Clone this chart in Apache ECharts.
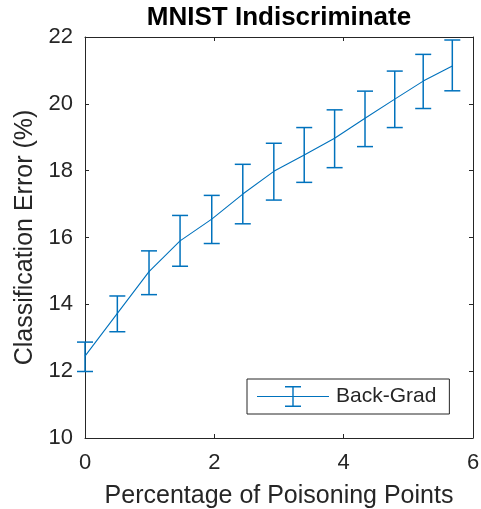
<!DOCTYPE html>
<html>
<head>
<meta charset="utf-8">
<script src="https://cdn.jsdelivr.net/npm/echarts@6/dist/echarts.min.js"></script>
<style>
html,body{margin:0;padding:0;background:#fff;}
#chart{width:481px;height:509px;}
</style>
</head>
<body>
<div id="chart"></div>
<script>
// Data
var xPct    = [0, 0.50, 0.99, 1.47, 1.96, 2.44, 2.92, 3.39, 3.86, 4.33, 4.79, 5.23, 5.68];
var meanErr = [12.45, 13.73, 14.98, 15.90, 16.55, 17.30, 17.98, 18.47, 18.97, 19.57, 20.14, 20.68, 21.13];
var lowErr  = [11.99, 13.18, 14.29, 15.14, 15.82, 16.41, 17.12, 17.65, 18.09, 18.72, 19.29, 19.86, 20.39];
var highErr = [12.87, 14.25, 15.60, 16.66, 17.26, 18.19, 18.82, 19.29, 19.82, 20.38, 20.98, 21.48, 21.91];
var xTicks = [0, 2, 4, 6];
var yTicks = [10, 12, 14, 16, 18, 20, 22];
var seriesName = 'Back-Grad';

var lineData = xPct.map(function (x, i) { return [x, meanErr[i]]; });
var barData = xPct.map(function (x, i) { return [x, lowErr[i], highErr[i]]; });

var BLUE = '#0072BD';
var AX = '#262626';
var FONT = '"Liberation Sans", Arial, Helvetica, sans-serif';

var chart = echarts.init(document.getElementById('chart'), null, {renderer: 'canvas'});

function xAxisCfg(pos, show) {
  return {
    type: 'value', position: pos, min: xTicks[0], max: xTicks[xTicks.length - 1], interval: 2,
    axisLine: {show: true, onZero: false, lineStyle: {color: AX, width: 1}},
    axisTick: {show: true, inside: true, length: 4, lineStyle: {color: AX}},
    axisLabel: {show: show, color: AX, fontSize: 22, fontFamily: FONT, margin: 14},
    splitLine: {show: false}
  };
}
function yAxisCfg(pos, show) {
  return {
    type: 'value', position: pos, min: yTicks[0], max: yTicks[yTicks.length - 1], interval: 2,
    axisLine: {show: true, onZero: false, lineStyle: {color: AX, width: 1}},
    axisTick: {show: true, inside: true, length: 4, lineStyle: {color: AX}},
    axisLabel: {show: show, color: AX, fontSize: 22, fontFamily: FONT, margin: 12},
    splitLine: {show: false}
  };
}

var xa = xAxisCfg('bottom', true);
xa.name = 'Percentage of Poisoning Points';
xa.nameLocation = 'middle';
xa.nameGap = 46;
xa.nameTextStyle = {color: AX, fontSize: 25, fontFamily: FONT};
var ya = yAxisCfg('left', true);
ya.name = 'Classification Error (%)';
ya.nameLocation = 'middle';
ya.nameGap = 45;
ya.nameTextStyle = {color: AX, fontSize: 25, fontFamily: FONT};

var legendIcon = 'path://M0 10L72 10L72 11L0 11Z M35.3 0L36.7 0L36.7 21L35.3 21Z M28 0L44 0L44 1.4L28 1.4Z M28 19.6L44 19.6L44 21L28 21Z';

var option = {
  animation: false,
  backgroundColor: '#fff',
  title: {
    text: 'MNIST Indiscriminate',
    left: 279, top: 5, textAlign: 'center', padding: 0,
    textStyle: {color: '#000', fontSize: 26, fontWeight: 'bold', fontFamily: FONT}
  },
  grid: {left: 85, right: 8, top: 37, bottom: 71, containLabel: false, outerBoundsMode: 'none'},
  xAxis: [xa, xAxisCfg('top', false)],
  yAxis: [ya, yAxisCfg('right', false)],
  legend: {
    data: [{name: seriesName, icon: legendIcon}],
    left: 247, top: 379,
    padding: [7, 13, 7, 10],
    itemWidth: 72, itemHeight: 21,
    borderColor: AX, borderWidth: 1, borderRadius: 0,
    backgroundColor: '#fff',
    selectedMode: false,
    textStyle: {color: AX, fontSize: 21, fontFamily: FONT, padding: [0, 0, 0, 2]},
    itemStyle: {color: BLUE}
  },
  series: [
    {
      name: seriesName, type: 'line', data: lineData,
      showSymbol: false, symbol: 'none',
      lineStyle: {color: BLUE, width: 1.1},
      itemStyle: {color: BLUE},
      z: 3
    },
    {
      name: seriesName, type: 'custom', data: barData,
      encode: {x: 0, y: [1, 2]},
      renderItem: function (params, api) {
        var x = api.value(0);
        var lo = api.coord([x, api.value(1)]);
        var hi = api.coord([x, api.value(2)]);
        var hw = 8;
        var style = {stroke: BLUE, lineWidth: 1.5, fill: null};
        return {
          type: 'group',
          children: [
            {type: 'line', shape: {x1: lo[0], y1: lo[1], x2: hi[0], y2: hi[1]}, style: style},
            {type: 'line', shape: {x1: lo[0] - hw, y1: lo[1], x2: lo[0] + hw, y2: lo[1]}, style: style},
            {type: 'line', shape: {x1: hi[0] - hw, y1: hi[1], x2: hi[0] + hw, y2: hi[1]}, style: style}
          ]
        };
      },
      z: 4
    }
  ]
};
chart.setOption(option);
</script>
</body>
</html>
